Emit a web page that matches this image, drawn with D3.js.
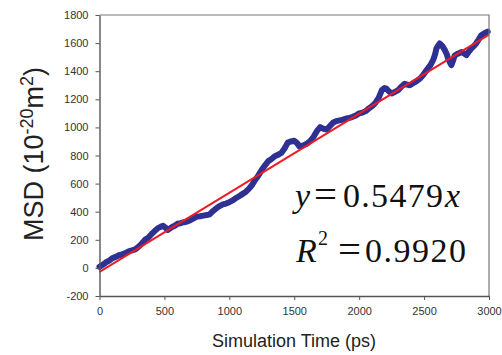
<!DOCTYPE html>
<html><head><meta charset="utf-8">
<script src="https://cdn.jsdelivr.net/npm/d3@7"></script>
<style>body{margin:0;background:#fff}svg{display:block}</style>
</head><body>
<svg id="c" width="502" height="355"></svg>
<script>
const timePs = [0,25,50,75,100,125,150,175,200,225,250,275,300,325,350,375,400,425,450,470,490,510,525,545,560,580,600,625,650,675,700,725,750,775,800,825,850,875,900,925,950,975,1000,1025,1050,1075,1100,1125,1150,1175,1200,1225,1250,1275,1300,1325,1350,1375,1400,1425,1450,1475,1500,1520,1540,1570,1600,1625,1650,1675,1700,1725,1750,1775,1800,1825,1850,1875,1900,1925,1950,1975,2000,2025,2050,2075,2100,2125,2150,2175,2195,2210,2230,2250,2275,2300,2325,2350,2370,2390,2415,2440,2465,2490,2510,2530,2550,2570,2585,2595,2610,2620,2640,2660,2675,2685,2700,2710,2725,2736,2760,2790,2810,2826,2845,2865,2885,2900,2920,2940,2965,2990];
const msd = [8,22,40,52,70,78,90,96,105,118,125,132,150,172,200,215,240,262,283,292,300,285,270,282,292,300,314,318,325,330,340,352,365,368,372,376,382,405,425,440,452,458,468,480,497,510,525,540,562,590,628,660,698,730,760,775,795,805,818,850,892,900,905,890,865,872,885,905,935,975,1002,990,985,1010,1035,1045,1050,1055,1063,1068,1075,1085,1100,1105,1116,1135,1152,1175,1210,1265,1280,1276,1255,1242,1252,1265,1290,1310,1305,1300,1315,1328,1345,1370,1395,1420,1445,1480,1520,1562,1585,1597,1580,1550,1520,1490,1460,1443,1480,1512,1525,1537,1525,1514,1540,1562,1580,1597,1625,1656,1670,1682];
const fitX = [0,3000];
const fitY = [-28,1660];
const xTicks = [0,500,1000,1500,2000,2500,3000];
const yTicks = [-200,0,200,400,600,800,1000,1200,1400,1600,1800];

const svg = d3.select('#c');
const L=99.5, R=489, T=15, B=296;
const x = d3.scaleLinear().domain([0,3000]).range([L,R]);
const y = d3.scaleLinear().domain([-200,1800]).range([B,T]);

const line = d3.line().x(d=>x(d[0])).y(d=>y(d[1]));
svg.append('path').datum(timePs.map((t,i)=>[t,msd[i]]))
  .attr('d',line).attr('fill','none').attr('stroke','#2e3192')
  .attr('stroke-width',6).attr('stroke-linejoin','round').attr('stroke-linecap','round');
svg.append('path').datum(fitX.map((t,i)=>[t,fitY[i]]))
  .attr('d',line).attr('fill','none').attr('stroke','#ed1c24').attr('stroke-width',2);

// frame
svg.append('path').attr('d',`M${L},${T}H${R}V${B}`).attr('fill','none').attr('stroke','#777').attr('stroke-width',1.2);

const gx = svg.append('g').attr('transform',`translate(0,${B})`)
  .call(d3.axisBottom(x).tickValues(xTicks).tickSize(4).tickPadding(7).tickSizeOuter(0).tickFormat(d=>String(d)));
const gy = svg.append('g').attr('transform',`translate(${L},0)`)
  .call(d3.axisLeft(y).tickValues(yTicks).tickSize(4).tickPadding(7).tickSizeOuter(0).tickFormat(d=>String(d)));
[gx,gy].forEach(g=>{
  g.selectAll('path').attr('stroke','#555').attr('stroke-width',1.4);
  g.selectAll('line').attr('stroke','#555');
  g.selectAll('text').attr('fill','#333').style('font-family','Liberation Sans, Arial, sans-serif').style('font-size','11px');
});

svg.append('text').attr('x',294).attr('y',347).attr('text-anchor','middle')
  .style('font-family','Liberation Sans, Arial, sans-serif').style('font-size','18px').attr('fill','#222')
  .text('Simulation Time (ps)');

const yl = svg.append('text').attr('transform','translate(43,154) rotate(-90)').attr('text-anchor','middle')
  .style('font-family','Liberation Sans, Arial, sans-serif').style('font-size','27px').attr('fill','#222');
yl.append('tspan').text('MSD (10');
yl.append('tspan').attr('dy',-10).style('font-size','18px').text('-20');
yl.append('tspan').attr('dy',10).text('m');
yl.append('tspan').attr('dy',-10).style('font-size','18px').text('2');
yl.append('tspan').attr('dy',10).text(')');

const ser = 'Liberation Serif, Times New Roman, serif';
const eq = svg.append('g').style('font-family',ser).attr('fill','#111');
eq.append('text').attr('x',295).attr('y',207).style('font-size','34px').style('font-style','italic').text('y');
eq.append('text').attr('x',314).attr('y',207).style('font-size','38px').attr('textLength',23).attr('lengthAdjust','spacingAndGlyphs').text('=');
eq.append('text').attr('x',343).attr('y',207).style('font-size','34px').attr('textLength',100).text('0.5479');
eq.append('text').attr('x',445).attr('y',207).style('font-size','34px').style('font-style','italic').text('x');
eq.append('text').attr('x',296).attr('y',262).style('font-size','34px').style('font-style','italic').text('R');
eq.append('text').attr('x',318).attr('y',245).style('font-size','20px').text('2');
eq.append('text').attr('x',338).attr('y',262).style('font-size','38px').attr('textLength',23).attr('lengthAdjust','spacingAndGlyphs').text('=');
eq.append('text').attr('x',365).attr('y',262).style('font-size','34px').attr('textLength',101).text('0.9920');
</script>
</body></html>
